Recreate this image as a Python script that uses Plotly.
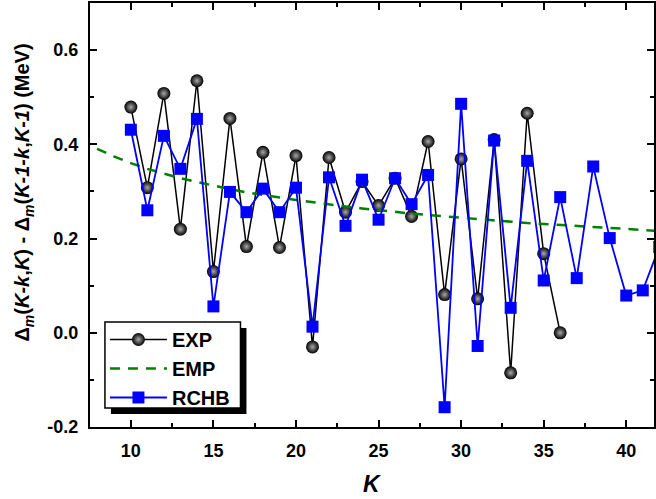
import plotly.graph_objects as go

K_exp = list(range(10, 37))
exp_vals = [0.479, 0.308, 0.508, 0.220, 0.535, 0.130, 0.455, 0.183, 0.383, 0.181,
            0.376, -0.030, 0.372, 0.256, 0.321, 0.270, 0.328, 0.247, 0.406, 0.081,
            0.369, 0.072, 0.410, -0.085, 0.466, 0.168, 0.000]

K_rchb = list(range(10, 43))
rchb_vals = [0.431, 0.260, 0.418, 0.348, 0.454, 0.056, 0.299, 0.256, 0.306, 0.256,
             0.308, 0.013, 0.330, 0.227, 0.325, 0.240, 0.328, 0.273, 0.335, -0.158,
             0.486, -0.028, 0.408, 0.053, 0.365, 0.111, 0.288, 0.116, 0.353, 0.201,
             0.079, 0.090, 0.182]

K_emp = list(range(7, 44))
emp_vals = [0.409, 0.390, 0.374, 0.360, 0.348, 0.338, 0.328, 0.320, 0.312, 0.305,
            0.298, 0.292, 0.287, 0.282, 0.277, 0.272, 0.268, 0.264, 0.260, 0.257,
            0.253, 0.250, 0.247, 0.244, 0.241, 0.238, 0.236, 0.233, 0.231, 0.229,
            0.226, 0.224, 0.222, 0.220, 0.218, 0.216, 0.214]

x_ticks = [10, 15, 20, 25, 30, 35, 40]
y_ticks = [-0.2, 0.0, 0.2, 0.4, 0.6]
y_tick_text = ["-0.2", "0.0", "0.2", "0.4", "0.6"]

FONT = "Liberation Sans, Arial, sans-serif"

fig = go.Figure()
fig.add_trace(go.Scatter(
    x=K_exp, y=exp_vals, name="EXP", mode="lines+markers",
    line=dict(color="black", width=1.5),
    marker=dict(symbol="circle", size=13, color="black",
                gradient=dict(type="radial", color="#a8a8a8"),
                line=dict(width=0)),
))
fig.add_trace(go.Scatter(
    x=K_emp, y=emp_vals, name="EMP", mode="lines",
    line=dict(color="#008000", width=2.5, dash="10px,8px"),
))
fig.add_trace(go.Scatter(
    x=K_rchb, y=rchb_vals, name="RCHB", mode="lines+markers",
    line=dict(color="#0000ff", width=1.8),
    marker=dict(symbol="square", size=12, color="#0000ff", line=dict(width=0)),
))

axis_common = dict(
    showline=True, linecolor="black", linewidth=2, mirror="ticks",
    ticks="inside", ticklen=7, tickwidth=2, tickcolor="black",
    showgrid=False, zeroline=False,
    tickfont=dict(family=FONT, size=18, color="black", weight="bold"),
)

fig.update_xaxes(
    range=[7.526, 41.68], tickvals=x_ticks,
    minor=dict(ticks="inside", ticklen=4, tickwidth=2, tickcolor="black", dtick=2.5, tick0=0),
    ticklabelstandoff=6,
    **axis_common,
)
fig.update_yaxes(
    range=[-0.2, 0.7], tickvals=y_ticks, ticktext=y_tick_text,
    minor=dict(ticks="inside", ticklen=4, tickwidth=2, tickcolor="black", dtick=0.1, tick0=0),
    ticklabelstandoff=6,
    **axis_common,
)

fig.add_annotation(
    xref="paper", yref="paper", x=0.5, y=-0.135, xanchor="center", yanchor="middle",
    text="<i>K</i>", showarrow=False,
    font=dict(family=FONT, size=23, color="black", weight="bold"),
)
fig.add_annotation(
    xref="paper", yref="paper", x=-0.118, y=0.554, xanchor="center", yanchor="middle",
    textangle=-90, showarrow=False,
    text="Δ<sub><i>m</i></sub>(<i>K-k</i>,<i>K</i>) - Δ<sub><i>m</i></sub>(<i>K-1-k</i>,<i>K-1</i>) (MeV)",
    font=dict(family=FONT, size=20, color="black", weight="bold"),
)

# legend frame with drop shadow
fig.add_shape(
    type="rect", xref="paper", yref="paper", layer="above",
    x0=0.0371, x1=0.2774, y0=0.0307, y1=0.2335,
    fillcolor="black", line=dict(width=0),
)
fig.add_shape(
    type="rect", xref="paper", yref="paper", layer="above",
    x0=0.0265, x1=0.2668, y0=0.0448, y1=0.2476,
    fillcolor="white", line=dict(color="black", width=1.5),
)

fig.update_layout(
    width=656, height=499,
    margin=dict(l=90, r=0, t=3, b=72),
    paper_bgcolor="white", plot_bgcolor="white",
    showlegend=True,
    legend=dict(
        x=0.0265, y=0.2524, xanchor="left", yanchor="top",
        bgcolor="rgba(0,0,0,0)", borderwidth=0,
        font=dict(family=FONT, size=20, color="black", weight="bold"),
        itemwidth=57, tracegroupgap=0,
    ),
)

fig.write_html(
    "out.html",
    config={"displayModeBar": False},
    post_script="document.body.style.margin='0';document.body.style.padding='0';document.body.style.overflow='hidden';",
)
